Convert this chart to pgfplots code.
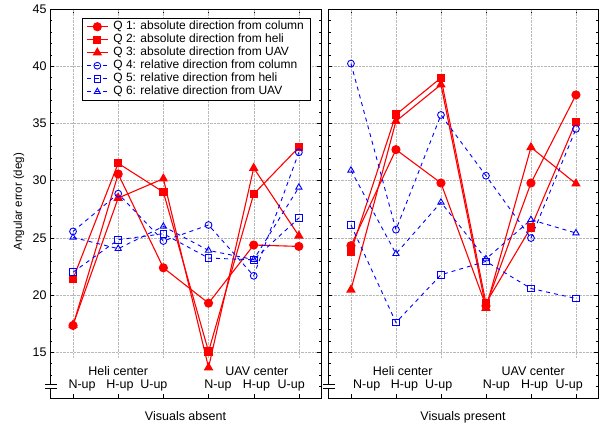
\documentclass[border=0pt]{standalone}
\usepackage{fontspec}
\setmainfont{Liberation Sans}
\usepackage{pgfplots}
\pgfplotsset{compat=1.18}
\usepackage{pgfplotstable}

% mean angular error per display condition (x: 1-3 heli center, 4-6 UAV center)
\pgfplotstableread{
x q1    q2    q3    q4    q5    q6
1 17.34 21.42 17.40 25.56 22.00 25.04
2 30.58 31.51 28.48 28.86 24.83 24.05
3 22.38 29.00 30.17 24.72 25.36 26.00
4 19.29 15.06 13.66 26.12 23.23 23.90
5 24.37 28.83 31.10 21.68 23.08 23.10
6 24.25 32.91 25.18 32.47 26.73 29.41
}\absent

\pgfplotstableread{
x q1    q2    q3    q4    q5    q6
1 24.31 23.81 20.46 40.23 26.12 30.90
2 32.71 35.77 35.19 25.71 17.60 23.61
3 29.79 38.98 38.39 35.74 21.77 28.10
4 19.05 19.29 18.86 30.43 22.94 23.15
5 29.79 25.91 32.91 24.98 20.57 26.58
6 37.49 35.13 29.73 34.52 19.70 25.42
}\present

\tikzset{cat/.style={anchor=base, font=\fontsize{12.5}{14}\selectfont}}

\pgfplotsset{
  panel/.style={
    scale only axis, height=389pt,
    xmin=0.49, xmax=6.49, ymin=11, ymax=45,
    xtick={1,...,6}, xticklabels={},
    ytick={15,20,...,45}, minor ytick={12,...,44},
    tick align=inside, xtick pos=both, ytick pos=both,
    major tick length=4pt, minor tick length=2.5pt,
    tick style={black, thin},
    ymajorgrids=true,
    grid style={densely dotted, gray!55},
    axis line style={black, line width=0.8pt},
    ticklabel style={font=\fontsize{12.5}{14}\selectfont},
    label style={font=\fontsize{12.5}{14}\selectfont},
    /pgf/number format/assume math mode=true,
    clip=false,
    xlabel style={at={(axis description cs:0.5,0)}, anchor=base, yshift=-22pt},
  },
  qa/.style={red, solid, line width=1.1pt, mark options={solid, fill=red}},
  qr/.style={blue, dash pattern=on 4pt off 4pt, line width=0.9pt, mark options={solid, fill=white, line width=0.9pt}},
}

\begin{document}
\begin{tikzpicture}
\useasboundingbox (-50pt,-30pt) rectangle (551pt,398pt);

\begin{axis}[panel, width=271pt, at={(0pt,0pt)}, anchor=south west,
  xlabel={Visuals absent},
  ylabel={Angular error (deg)},
  ylabel style={at={(axis description cs:-0.1144,0.505)}, anchor=center, font=\fontsize{11.5}{13}\selectfont},
  legend cell align=left,
  legend style={at={(axis description cs:0.118,0.977)}, anchor=north west,
    draw=black, line width=0.6pt, inner xsep=4pt, inner ysep=2pt,
    column sep=3pt,
    font=\fontsize{12}{13}\selectfont,
    nodes={text height=8.5pt, text depth=2.5pt, inner ysep=1pt}},
  legend image code/.code={\draw[mark repeat=2, mark phase=2] plot coordinates {(0pt,0pt) (10.5pt,0pt) (21pt,0pt)};},
]
\pgfplotsinvokeforeach{1,...,6}{\draw[densely dotted, gray!55] (axis cs:#1,14.55) -- (axis cs:#1,45);}
\addplot[qa, mark=*, mark size=4pt] table[x=x, y=q1] {\absent};
\addplot[qa, mark=square*, mark size=3.6pt] table[x=x, y=q2] {\absent};
\addplot[qa, mark=triangle*, mark size=4.4pt] table[x=x, y=q3] {\absent};
\addplot[qr, mark=o, mark size=3.4pt] table[x=x, y=q4] {\absent};
\addplot[qr, mark=square, mark size=3.3pt] table[x=x, y=q5] {\absent};
\addplot[qr, mark=triangle, mark size=3.6pt] table[x=x, y=q6] {\absent};
\legend{Q 1: absolute direction from column, Q 2: absolute direction from heli,
  Q 3: absolute direction from UAV, Q 4: relative direction from column,
  Q 5: relative direction from heli, Q 6: relative direction from UAV}
\node[cat] at (axis cs:2,13.01) {Heli center};
\node[cat] at (axis cs:5.07,13.01) {UAV center};
\node[cat] at (axis cs:1.20,11.79) {N-up};
\node[cat] at (axis cs:2.04,11.79) {H-up};
\node[cat] at (axis cs:2.79,11.79) {U-up};
\node[cat] at (axis cs:4.21,11.79) {N-up};
\node[cat] at (axis cs:5.06,11.79) {H-up};
\node[cat] at (axis cs:5.83,11.79) {U-up};
\fill[white] ([xshift=-5pt, yshift=10pt]rel axis cs:0,0) rectangle ([xshift=7pt, yshift=14pt]rel axis cs:0,0);
\draw[black, thin] ([xshift=-5pt, yshift=10pt]rel axis cs:0,0) -- ++(12pt,0pt);
\draw[black, thin] ([xshift=-5pt, yshift=14pt]rel axis cs:0,0) -- ++(12pt,0pt);
\end{axis}

\begin{axis}[panel, width=270pt, at={(278pt,0pt)}, anchor=south west,
  xlabel={Visuals present},
  yticklabels={},
]
\pgfplotsinvokeforeach{1,...,6}{\draw[densely dotted, gray!55] (axis cs:#1,14.55) -- (axis cs:#1,45);}
\addplot[qa, mark=*, mark size=4pt] table[x=x, y=q1] {\present};
\addplot[qa, mark=square*, mark size=3.6pt] table[x=x, y=q2] {\present};
\addplot[qa, mark=triangle*, mark size=4.4pt] table[x=x, y=q3] {\present};
\addplot[qr, mark=o, mark size=3.4pt] table[x=x, y=q4] {\present};
\addplot[qr, mark=square, mark size=3.3pt] table[x=x, y=q5] {\present};
\addplot[qr, mark=triangle, mark size=3.6pt] table[x=x, y=q6] {\present};
\node[cat] at (axis cs:2.15,13.01) {Heli center};
\node[cat] at (axis cs:5.05,13.01) {UAV center};
\node[cat] at (axis cs:1.35,11.79) {N-up};
\node[cat] at (axis cs:2.19,11.79) {H-up};
\node[cat] at (axis cs:2.95,11.79) {U-up};
\node[cat] at (axis cs:4.23,11.79) {N-up};
\node[cat] at (axis cs:5.08,11.79) {H-up};
\node[cat] at (axis cs:5.85,11.79) {U-up};
\fill[white] ([xshift=-5pt, yshift=10pt]rel axis cs:0,0) rectangle ([xshift=7pt, yshift=14pt]rel axis cs:0,0);
\draw[black, thin] ([xshift=-5pt, yshift=10pt]rel axis cs:0,0) -- ++(12pt,0pt);
\draw[black, thin] ([xshift=-5pt, yshift=14pt]rel axis cs:0,0) -- ++(12pt,0pt);
\end{axis}
\end{tikzpicture}
\end{document}
